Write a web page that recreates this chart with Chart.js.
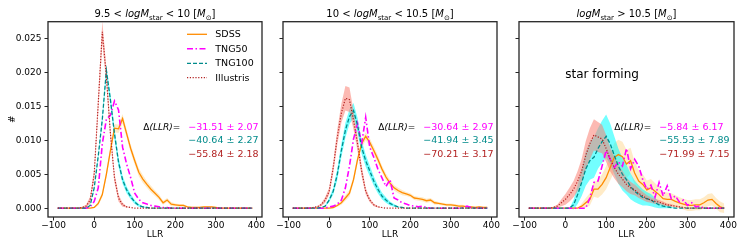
<!DOCTYPE html>
<html><head><meta charset="utf-8">
<script src="https://cdn.jsdelivr.net/npm/chart.js@4/dist/chart.umd.min.js"></script>
<style>
html,body{margin:0;padding:0;background:#fff;}
#wrap{position:relative;width:747px;height:249px;background:#fff;}
canvas{position:absolute;left:0;top:0;}
</style></head><body>
<div id="wrap">
<canvas id="c1" width="747" height="249"></canvas>
<canvas id="c2" width="747" height="249"></canvas>
<canvas id="c3" width="747" height="249"></canvas>
</div>
<script>
// ---------------- DATA ----------------
const llrBins = [
 -90,-80,-70,-60,-50,-40,-30,-20,-10,0,
 10,20,30,40,50,60,70,80,90,100,
 110,120,130,140,150,160,170,180,190,200,
 210,220,230,240,250,260,270,280,290,300,
 310,320,330,340,350,360,370,380,390];

const xTickValues = [-100, 0, 100, 200, 300, 400];
const yTickValues = [0, 0.005, 0.010, 0.015, 0.020, 0.025];
const seriesNames = ['SDSS', 'TNG50', 'TNG100', 'Illustris'];

// Panel 1: 9.5 < logM < 10
const sdss1 = [
 0,0,0,0,0,0,0,0,0,0.0001,
 0.0007,0.0020,0.0050,0.0085,0.0118,0.0117,0.0132,0.0110,0.0088,0.0070,
 0.0053,0.0043,0.0035,0.0028,0.0022,0.0016,0.0008,0.0012,0.0006,0.0005,
 0.0004,0.0004,0.0002,0.0001,0.0001,0.0001,0.0002,0.0002,0.0002,0.0001,
 0,0,0,0,0,0,0,0,0];
const sdssErr1 = [
 0,0,0,0,0,0,0,0,0,0.0001,
 0.0003,0.0004,0.0005,0.0006,0.0006,0.0006,0.0007,0.0006,0.0006,0.0006,
 0.0006,0.0006,0.0005,0.0005,0.0004,0.0004,0.0003,0.0003,0.0003,0.0002,
 0.0002,0.0002,0.0001,0.0001,0.0001,0.0001,0.0001,0.0001,0.0001,0.0001,
 0,0,0,0,0,0,0,0,0];
const tng50_1 = [
 0,0,0,0,0,0,0,0,0.0002,0.0010,
 0.0030,0.0095,0.0131,0.0137,0.0158,0.0145,0.0090,0.0065,0.0045,0.0022,
 0.0013,0.0008,0.0006,0.0004,0.0003,0.0002,0.0001,0.0001,0,0,
 0,0,0,0,0,0,0,0,0,0,
 0,0,0,0,0,0,0,0,0];
const tng100_1 = [
 0,0,0,0,0,0,0,0,0.0004,0.0030,
 0.0077,0.0131,0.0203,0.0160,0.0110,0.0068,0.0042,0.0027,0.0017,0.0009,
 0.0004,0.0002,0.0001,0,0,0,0,0,0,0,
 0,0,0,0,0,0,0,0,0,0,
 0,0,0,0,0,0,0,0,0];
const tng100Err1 = [
 0,0,0,0,0,0,0,0,0.0001,0.0003,
 0.0004,0.0006,0.0008,0.0008,0.0008,0.0007,0.0006,0.0005,0.0004,0.0003,
 0.0002,0.0001,0.0001,0,0,0,0,0,0,0,
 0,0,0,0,0,0,0,0,0,0,
 0,0,0,0,0,0,0,0,0];
const ill1 = [
 0,0,0,0,0,0,0.0001,0.0003,0.0012,0.0050,
 0.0155,0.0260,0.0195,0.0110,0.0045,0.0015,0.0005,0.0002,0.0001,0,
 0,0,0,0,0,0,0,0,0,0,
 0,0,0,0,0,0,0,0,0,0,
 0,0,0,0,0,0,0,0,0];
const illErr1 = [
 0,0,0,0,0,0,0.0001,0.0002,0.0005,0.0008,
 0.0012,0.0016,0.0012,0.0009,0.0007,0.0005,0.0003,0.0001,0,0,
 0,0,0,0,0,0,0,0,0,0,
 0,0,0,0,0,0,0,0,0,0,
 0,0,0,0,0,0,0,0,0];

// Panel 2: 10 < logM < 10.5
const sdss2 = [
 0,0,0,0,0,0,0,0,0,0,
 0.0001,0.0004,0.0008,0.0015,0.0022,0.0042,0.0072,0.0095,0.0106,0.0097,
 0.0085,0.0072,0.0058,0.0046,0.0037,0.0030,0.0026,0.0023,0.0021,0.0019,
 0.0015,0.0014,0.0013,0.0011,0.0012,0.0008,0.0007,0.0006,0.0005,0.0005,
 0.0004,0.0003,0.0003,0.0002,0.0002,0.0001,0.0002,0.0001,0.0001];
const sdssErr2 = [
 0,0,0,0,0,0,0,0,0,0,
 0.0001,0.0002,0.0003,0.0004,0.0005,0.0005,0.0006,0.0006,0.0006,0.0006,
 0.0006,0.0006,0.0005,0.0005,0.0005,0.0004,0.0004,0.0004,0.0003,0.0003,
 0.0003,0.0003,0.0003,0.0003,0.0003,0.0003,0.0002,0.0002,0.0002,0.0002,
 0.0002,0.0002,0.0002,0.0001,0.0001,0.0001,0.0001,0.0001,0.0001];
const tng50_2 = [
 0,0,0,0,0,0,0,0,0,0.0002,
 0.0003,0.0006,0.0012,0.0030,0.0062,0.0102,0.0125,0.0095,0.0134,0.0090,
 0.0075,0.0058,0.0045,0.0032,0.0042,0.0015,0.0012,0.0008,0.0006,0.0004,
 0.0003,0.0002,0.0003,0.0001,0,0,0,0,0,0,
 0,0,0.0001,0.0003,0.0001,0,0,0,0];
const tng100_2 = [
 0,0,0,0,0,0,0,0.0001,0.0003,0.0012,
 0.0025,0.0050,0.0085,0.0115,0.0135,0.0144,0.0122,0.0090,0.0070,0.0055,
 0.0040,0.0028,0.0018,0.0012,0.0007,0.0004,0.0002,0.0001,0,0,
 0,0,0,0,0,0,0,0,0,0,
 0,0,0,0,0,0,0,0,0];
const tng100Err2 = [
 0,0,0,0,0,0,0,0,0.0001,0.0003,
 0.0005,0.0008,0.0010,0.0011,0.0011,0.0011,0.0011,0.0010,0.0009,0.0008,
 0.0007,0.0006,0.0005,0.0004,0.0003,0.0002,0.0001,0,0,0,
 0,0,0,0,0,0,0,0,0,0,
 0,0,0,0,0,0,0,0,0];
const ill2 = [
 0,0,0,0,0,0.0001,0.0002,0.0005,0.0012,0.0025,
 0.0060,0.0105,0.0140,0.0162,0.0160,0.0130,0.0095,0.0055,0.0025,0.0012,
 0.0005,0.0002,0.0001,0,0,0,0,0,0,0,
 0,0,0,0,0,0,0,0,0,0,
 0,0,0,0,0,0,0,0,0];
const illErr2 = [
 0,0,0,0,0,0,0.0001,0.0002,0.0004,0.0005,
 0.0008,0.0011,0.0014,0.0018,0.0018,0.0014,0.0011,0.0008,0.0005,0.0003,
 0.0002,0.0001,0,0,0,0,0,0,0,0,
 0,0,0,0,0,0,0,0,0,0,
 0,0,0,0,0,0,0,0,0];

// Panel 3: logM > 10.5
const sdss3 = [
 0,0,0,0,0,0,0,0,0,0,
 0,0,0,0.0003,0.0008,0.0013,0.0028,0.0028,0.0035,0.0045,
 0.0060,0.0075,0.0079,0.0076,0.0065,0.0070,0.0052,0.0040,0.0035,0.0027,
 0.0030,0.0025,0.0020,0.0014,0.0013,0.0013,0.0010,0.0008,0.0006,0.0004,
 0.0004,0.0005,0.0005,0.0008,0.0012,0.0013,0.0007,0.0002,0];
const sdssErr3 = [
 0,0,0,0,0,0,0,0,0,0,
 0,0,0,0.0004,0.0007,0.0009,0.0011,0.0013,0.0015,0.0017,
 0.0019,0.0021,0.0022,0.0022,0.0021,0.0019,0.0017,0.0016,0.0015,0.0014,
 0.0013,0.0012,0.0011,0.0010,0.0010,0.0009,0.0009,0.0008,0.0008,0.0008,
 0.0008,0.0008,0.0008,0.0008,0.0009,0.0009,0.0008,0.0008,0.0007];
const tng50_3 = [
 0,0,0,0,0,0,0,0,0,0,
 0,0,0,0,0,0.0015,0.0038,0.0040,0.0062,0.0085,
 0.0072,0.0060,0.0068,0.0062,0.0088,0.0058,0.0072,0.0062,0.0042,0.0028,
 0.0034,0.0016,0.0038,0.0018,0.0033,0.0014,0.0018,0.0009,0.0012,0.0004,
 0.0008,0.0002,0.0003,0,0,0,0,0,0];
const tng100_3 = [
 0,0,0,0,0,0,0,0,0,0,
 0,0.0005,0.0020,0.0038,0.0058,0.0070,0.0075,0.0088,0.0098,0.0106,
 0.0095,0.0078,0.0062,0.0050,0.0042,0.0032,0.0025,0.0020,0.0016,0.0014,
 0.0012,0.0008,0.0005,0.0003,0.0002,0.0001,0,0,0,0,
 0,0,0,0,0,0,0,0,0];
const tng100Err3 = [
 0,0,0,0,0,0,0,0,0,0,
 0,0.0007,0.0014,0.0020,0.0025,0.0028,0.0030,0.0030,0.0031,0.0032,
 0.0030,0.0028,0.0026,0.0024,0.0022,0.0019,0.0016,0.0014,0.0012,0.0010,
 0.0009,0.0007,0.0005,0.0003,0.0002,0.0001,0,0,0,0,
 0,0,0,0,0,0,0,0,0];
const ill3 = [
 0,0,0,0,0,0,0.0001,0.0003,0.0008,0.0013,
 0.0020,0.0028,0.0040,0.0055,0.0078,0.0095,0.0108,0.0105,0.0102,0.0088,
 0.0072,0.0060,0.0050,0.0043,0.0035,0.0030,0.0027,0.0022,0.0018,0.0014,
 0.0012,0.0010,0.0009,0.0007,0.0005,0.0004,0.0003,0.0002,0.0001,0,
 0,0,0,0,0,0,0,0,0];
const illErr3 = [
 0,0,0,0,0,0,0.0001,0.0002,0.0005,0.0008,
 0.0010,0.0012,0.0015,0.0018,0.0021,0.0023,0.0023,0.0022,0.0021,0.0020,
 0.0018,0.0016,0.0014,0.0012,0.0010,0.0009,0.0008,0.0007,0.0006,0.0005,
 0.0004,0.0004,0.0003,0.0003,0.0002,0.0002,0.0001,0.0001,0,0,
 0,0,0,0,0,0,0,0,0];

// Δ(LLR) annotations (TNG50, TNG100, Illustris)
const deltaLabels1 = ['\u221231.51 \u00b1 2.07', '\u221240.64 \u00b1 2.27', '\u221255.84 \u00b1 2.18'];
const deltaLabels2 = ['\u221230.64 \u00b1 2.97', '\u221241.94 \u00b1 3.45', '\u221270.21 \u00b1 3.17'];
const deltaLabels3 = ['\u22125.84 \u00b1 6.17', '\u221255.53 \u00b1 7.89', '\u221271.99 \u00b1 7.15'];

// Panel titles (rich text pieces)
const title1 = [['9.5 < ',''],['logM','i'],['star','s'],[' < 10 [',''],['M','i'],['\u2299','s'],[']','']];
const title2 = [['10 < ',''],['logM','i'],['star','s'],[' < 10.5 [',''],['M','i'],['\u2299','s'],[']','']];
const title3 = [['logM','i'],['star','s'],[' > 10.5 [',''],['M','i'],['\u2299','s'],[']','']];

// ---------------- STYLE ----------------
const FONT = '"DejaVu Sans", sans-serif';
const C_SDSS = '#ff8c00', C_T50 = '#ff00ff', C_T100 = '#008b8b', C_ILL = '#b22222';
const B_SDSS = 'rgba(255,165,0,0.22)', B_T100 = 'rgba(0,255,255,0.55)', B_ILL = 'rgba(250,128,114,0.55)';
const lineStyles = [
  {color: C_SDSS, dash: [], width: 1.3},
  {color: C_T50, dash: [6, 2.5, 1.5, 2.5], width: 1.6},
  {color: C_T100, dash: [4, 2], width: 1.3},
  {color: C_ILL, dash: [1.2, 1.6], width: 1.2}
];

function pts(arr) { return llrBins.map((x, i) => ({x: x, y: arr[i]})); }
function ptsOff(arr, err, s) { return llrBins.map((x, i) => ({x: x, y: arr[i] + s * err[i]})); }

function fontFor(kind, size) {
  const sz = kind === 's' ? size * 0.7 : size;
  return (kind === 'i' ? 'italic ' : '') + sz + 'px ' + FONT;
}
function drawRich(ctx, parts, x, y, size, color, align) {
  ctx.save();
  ctx.fillStyle = color;
  ctx.textBaseline = 'alphabetic';
  ctx.textAlign = 'left';
  let w = 0;
  for (const [t, k] of parts) { ctx.font = fontFor(k, size); w += ctx.measureText(t).width; }
  let cx = align === 'center' ? x - w / 2 : x;
  for (const [t, k] of parts) {
    ctx.font = fontFor(k, size);
    ctx.fillText(t, cx, y + (k === 's' ? size * 0.25 : 0));
    cx += ctx.measureText(t).width;
  }
  ctx.restore();
}

function makePanel(id, p) {
  const datasets = [
    {data: ptsOff(p.sdss, p.sdssErr, -1), borderColor: 'transparent', borderWidth: 0, pointRadius: 0, fill: false, order: 6},
    {data: ptsOff(p.sdss, p.sdssErr, 1), borderColor: 'transparent', borderWidth: 0, pointRadius: 0, fill: '-1', backgroundColor: B_SDSS, order: 6},
    {data: ptsOff(p.t100, p.t100Err, -1), borderColor: 'transparent', borderWidth: 0, pointRadius: 0, fill: false, order: 5},
    {data: ptsOff(p.t100, p.t100Err, 1), borderColor: 'transparent', borderWidth: 0, pointRadius: 0, fill: '-1', backgroundColor: B_T100, order: 5},
    {data: ptsOff(p.ill, p.illErr, -1), borderColor: 'transparent', borderWidth: 0, pointRadius: 0, fill: false, order: 4},
    {data: ptsOff(p.ill, p.illErr, 1), borderColor: 'transparent', borderWidth: 0, pointRadius: 0, fill: '-1', backgroundColor: B_ILL, order: 4},
  ];
  [p.sdss, p.t50, p.t100, p.ill].forEach((arr, k) => {
    datasets.push({label: seriesNames[k], data: pts(arr), borderColor: lineStyles[k].color,
      borderWidth: lineStyles[k].width, borderDash: lineStyles[k].dash, pointRadius: 0,
      fill: false, tension: 0, order: 3 - k});
  });

  const deco = {
    id: 'deco' + id,
    afterDraw(chart) {
      const ctx = chart.ctx, a = chart.chartArea;
      ctx.save();
      ctx.strokeStyle = '#262626'; ctx.lineWidth = 1.3;
      ctx.strokeRect(a.left, a.top, a.right - a.left, a.bottom - a.top);
      drawRich(ctx, p.title, (a.left + a.right) / 2, 17, 10, '#000', 'center');
      if (p.legend) {
        const ys = [34.3, 48.8, 63.3, 77.6];
        seriesNames.forEach((n, k) => {
          const st = lineStyles[k];
          ctx.strokeStyle = st.color; ctx.lineWidth = st.width; ctx.setLineDash(st.dash);
          ctx.beginPath(); ctx.moveTo(a.right - 75, ys[k]); ctx.lineTo(a.right - 55, ys[k]); ctx.stroke();
          ctx.setLineDash([]);
          ctx.fillStyle = '#000'; ctx.font = '9.5px ' + FONT; ctx.textBaseline = 'middle'; ctx.textAlign = 'left';
          ctx.fillText(n, a.right - 46.7, ys[k] + 0.5);
        });
      }
      const dx = a.left + 95.3, vx = a.left + 140.3;
      drawRich(ctx, [['\u0394',''],['(LLR)','i'],['=','']], dx, 130.3, 9, '#000', 'left');
      const cols = [C_T50, C_T100, C_ILL];
      const rowY = [130.3, 143.3, 156.8];
      p.deltas.forEach((t, k) => {
        ctx.fillStyle = cols[k]; ctx.font = '9.5px ' + FONT; ctx.textBaseline = 'alphabetic'; ctx.textAlign = 'left';
        ctx.fillText(t, vx, rowY[k]);
      });
      if (p.note) {
        ctx.fillStyle = '#000'; ctx.font = '12px ' + FONT; ctx.textBaseline = 'middle'; ctx.textAlign = 'left';
        ctx.fillText(p.note, a.left + 46.3, 74.5);
      }
      ctx.restore();
    }
  };

  const isFirst = p.first;
  return new Chart(document.getElementById(id), {
    type: 'line',
    data: {datasets},
    options: {
      responsive: false, animation: false, devicePixelRatio: 1,
      layout: {padding: {left: p.padLeft, right: p.padRight, top: 21.7, bottom: 4}},
      plugins: {legend: {display: false}, tooltip: {enabled: false}, filler: {drawTime: 'beforeDatasetsDraw'}},
      scales: {
        x: {
          type: 'linear', bounds: 'data', min: -114, max: 414,
          afterBuildTicks: s => { s.ticks = xTickValues.map(v => ({value: v})); },
          afterFit: s => { s.height = 28; },
          ticks: {font: {family: FONT, size: 9}, color: '#000', padding: 0, maxRotation: 0, autoSkip: false,
            callback: v => (v < 0 ? '\u2212' + Math.abs(v) : String(v))},
          grid: {display: true, drawOnChartArea: false, drawTicks: true, tickLength: 3.5, tickColor: '#262626', tickWidth: 1},
          border: {display: false},
          title: {display: true, text: 'LLR', color: '#000', font: {family: FONT, size: 9}, padding: {top: 0, bottom: 5}}
        },
        y: {
          type: 'linear', bounds: 'data', min: -0.0013, max: 0.0275,
          afterBuildTicks: s => { s.ticks = yTickValues.map(v => ({value: v})); },
          afterFit: s => { s.width = isFirst ? 46 : 10; },
          ticks: {font: {family: FONT, size: 9}, color: '#000', padding: 3,
            callback: v => (isFirst ? v.toFixed(3) : '')},
          grid: {display: true, drawOnChartArea: false, drawTicks: true, tickLength: 3.5, tickColor: '#262626', tickWidth: 1},
          border: {display: false},
          title: {display: isFirst, text: '#', color: '#000', font: {family: FONT, size: 9}, padding: {top: 5, bottom: 0}}
        }
      }
    },
    plugins: [deco]
  });
}

makePanel('c1', {first: true, padLeft: 2, padRight: 747 - 262, title: title1, legend: true,
  sdss: sdss1, sdssErr: sdssErr1, t50: tng50_1, t100: tng100_1, t100Err: tng100Err1, ill: ill1, illErr: illErr1,
  deltas: deltaLabels1});
makePanel('c2', {first: false, padLeft: 283 - 10, padRight: 747 - 497, title: title2,
  sdss: sdss2, sdssErr: sdssErr2, t50: tng50_2, t100: tng100_2, t100Err: tng100Err2, ill: ill2, illErr: illErr2,
  deltas: deltaLabels2});
makePanel('c3', {first: false, padLeft: 519 - 10, padRight: 747 - 734, title: title3, note: 'star forming',
  sdss: sdss3, sdssErr: sdssErr3, t50: tng50_3, t100: tng100_3, t100Err: tng100Err3, ill: ill3, illErr: illErr3,
  deltas: deltaLabels3});
</script>
</body></html>
